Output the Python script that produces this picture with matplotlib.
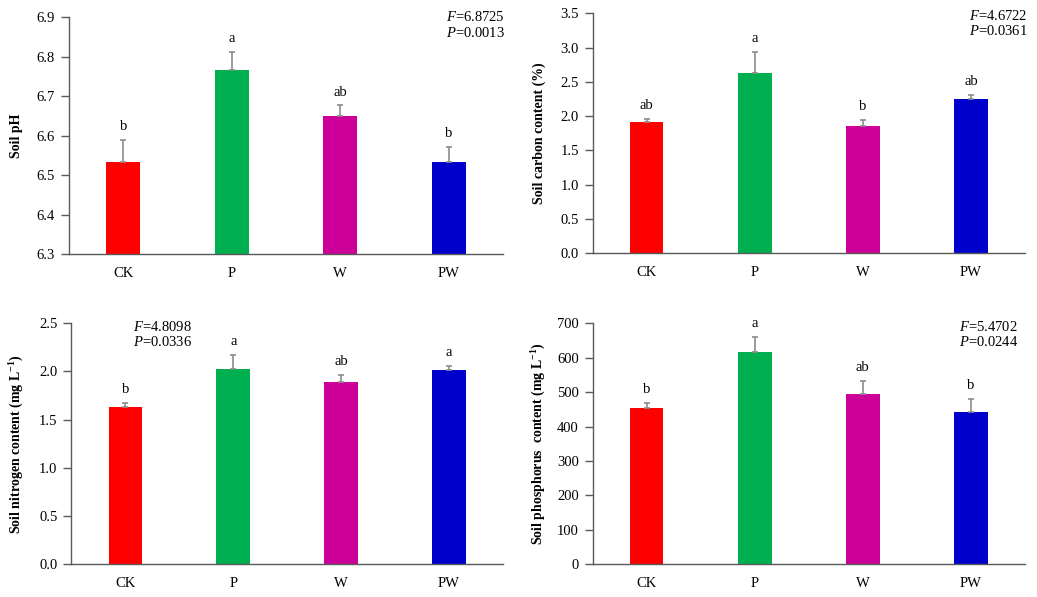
import numpy as np
import matplotlib
matplotlib.use("Agg")
import matplotlib.pyplot as plt

plt.rcParams['font.family'] = ['Liberation Serif', 'DejaVu Serif']
plt.rcParams['mathtext.fontset'] = 'custom'
plt.rcParams['mathtext.rm'] = 'Liberation Serif'
plt.rcParams['mathtext.it'] = 'Liberation Serif:italic'
plt.rcParams['mathtext.bf'] = 'Liberation Serif:bold'

# --- datos ---
groups = ['CK', 'P', 'W', 'PW']
bar_colors = ['#FF0000', '#00B050', '#CC0099', '#0000CC']

ph_mean = [6.534, 6.767, 6.650, 6.534]
ph_err = [0.055, 0.044, 0.026, 0.036]
ph_letters = ['b', 'a', 'ab', 'b']

carbon_mean = [1.91, 2.63, 1.86, 2.245]
carbon_err = [0.05, 0.31, 0.09, 0.06]
carbon_letters = ['ab', 'a', 'b', 'ab']

nitrogen_mean = [1.636, 2.03, 1.888, 2.012]
nitrogen_err = [0.04, 0.14, 0.08, 0.05]
nitrogen_letters = ['b', 'a', 'ab', 'a']

phos_mean = [453, 618, 494, 442]
phos_err = [15, 43, 39, 37]
phos_letters = ['b', 'a', 'ab', 'b']

fig = plt.figure(figsize=(10.37, 5.97), dpi=100)

# [left, bottom, width, height] de cada panel
ax_pos = [
    [0.0665, 0.5745, 0.4185, 0.397],
    [0.5715, 0.5757, 0.4169, 0.402],
    [0.0688, 0.0548, 0.4162, 0.4037],
    [0.5715, 0.0548, 0.4169, 0.4037],
]

panels = [
    dict(mean=ph_mean, err=ph_err, letters=ph_letters, ylim=(6.3, 6.9), step=0.1, fmt='{:.1f}',
         ylabel='Soil pH', stats=('6.8725', '0.0013'), stat_xy=(1.005, 1.03), ha='right', labx=-0.106),
    dict(mean=carbon_mean, err=carbon_err, letters=carbon_letters, ylim=(0, 3.5), step=0.5, fmt='{:.1f}',
         ylabel='Soil carbon content (%)', stats=('4.6722', '0.0361'), stat_xy=(1.006, 1.02), ha='right', labx=-0.107),
    dict(mean=nitrogen_mean, err=nitrogen_err, letters=nitrogen_letters, ylim=(0, 2.5), step=0.5, fmt='{:.1f}',
         ylabel=r'Soil nitrogen content (mg L$^{\mathbf{-1}}$)', stats=('4.8098', '0.0336'), stat_xy=(0.143, 1.015), ha='left', labx=-0.105),
    dict(mean=phos_mean, err=phos_err, letters=phos_letters, ylim=(0, 700), step=100, fmt='{:.0f}',
         ylabel=r'Soil phosphorus  content (mg L$^{\mathbf{-1}}$)', stats=('5.4702', '0.0244'), stat_xy=(0.984, 1.015), ha='right', labx=-0.104),
]

x = np.arange(len(groups))

for pos, p in zip(ax_pos, panels):
    ax = fig.add_axes(pos)
    lo, hi = p['ylim']
    ax.bar(x, np.array(p['mean']) - lo, bottom=lo, width=0.31, color=bar_colors, zorder=2)
    ax.errorbar(x, p['mean'], yerr=[np.zeros(4), p['err']], fmt='none',
                ecolor='#8c8c8c', elinewidth=1.2, capsize=2.5, capthick=1.2, zorder=3)
    for xi, m, e, lt in zip(x, p['mean'], p['err'], p['letters']):
        ax.annotate(lt, (xi, m + e), xytext=(0, 5), textcoords='offset points',
                    ha='center', va='bottom', fontsize=10.5)

    ax.set_xlim(-0.5, 3.5)
    ax.set_ylim(lo, hi)
    ticks = np.arange(lo, hi + p['step'] / 2, p['step'])
    ax.set_yticks(ticks)
    ax.set_yticklabels([p['fmt'].format(t) for t in ticks])
    ax.set_xticks(x)
    ax.set_xticklabels(groups)
    ax.tick_params(axis='x', length=0, pad=9, labelsize=10.5)
    ax.tick_params(axis='y', length=5.5, width=1, color='#595959', pad=4.5, labelsize=10.5)

    for s in ['top', 'right']:
        ax.spines[s].set_visible(False)
    for s in ['left', 'bottom']:
        ax.spines[s].set_color('#595959')
        ax.spines[s].set_linewidth(1)

    ax.set_ylabel(p['ylabel'], fontsize=10, fontweight='bold')
    ax.yaxis.set_label_coords(p['labx'], 0.5)

    f_val, p_val = p['stats']
    sx, sy = p['stat_xy']
    ax.text(sx, sy, '$F$=' + f_val + '\n$P$=' + p_val, transform=ax.transAxes,
            ha=p['ha'], va='top', fontsize=10.5, linespacing=1.15, multialignment=p['ha'])

fig.savefig('out.png', dpi=100)
